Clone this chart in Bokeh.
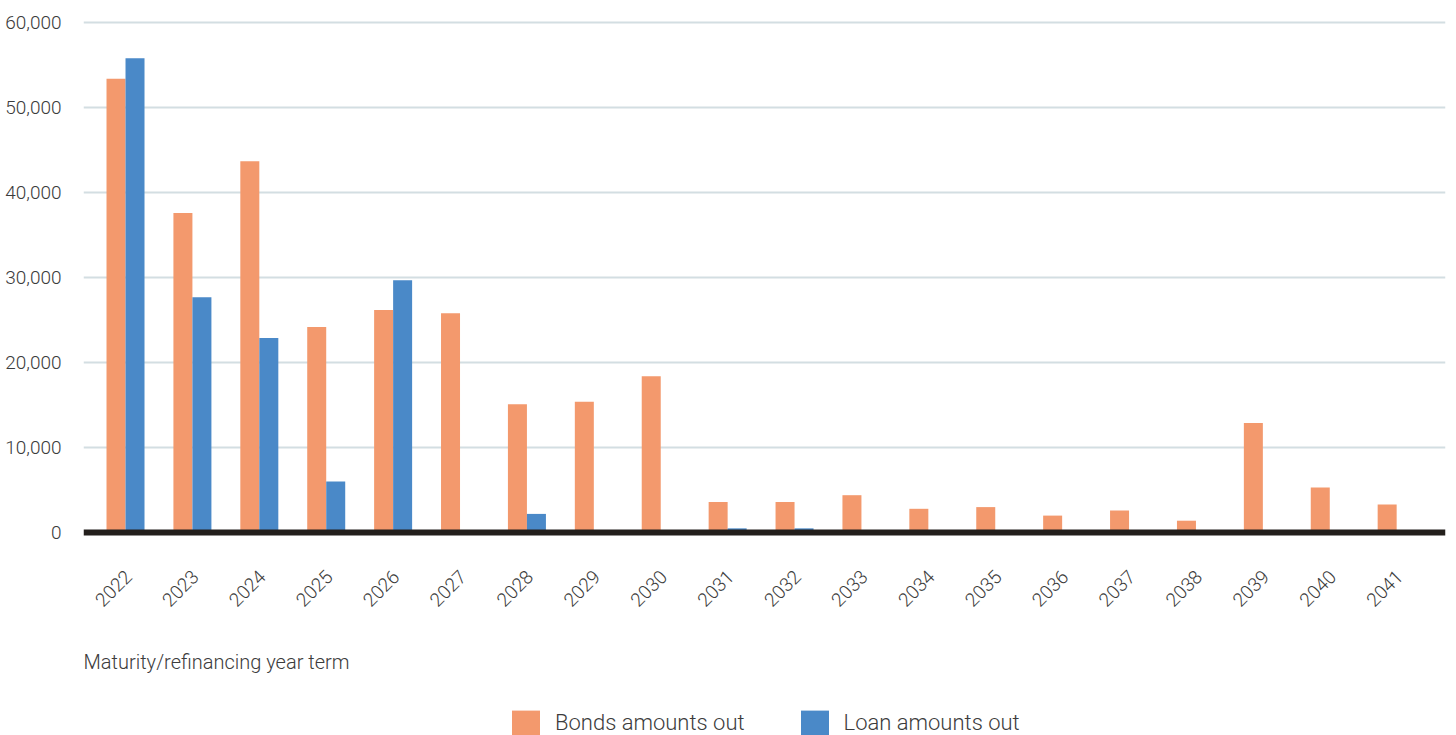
from bokeh.plotting import figure
from bokeh.models import (ColumnDataSource, Range1d, FixedTicker, NumeralTickFormatter,
                          Legend, LegendItem, Label, Span)
from bokeh.core.properties import value
from bokeh.transform import dodge
from bokeh.embed import file_html
from bokeh.resources import INLINE
import math

years = [str(y) for y in range(2022, 2042)]
bonds = [53400, 37600, 43700, 24200, 26200, 25800, 15100, 15400, 18400, 3600,
         3600, 4400, 2800, 3000, 2000, 2600, 1400, 12900, 5300, 3300]
loans = [55800, 27700, 22900, 6000, 29700, 0, 2200, 0, 0, 500,
         500, 0, 0, 0, 0, 0, 0, 0, 0, 0]

BOND_COLOR = "#F3996D"
LOAN_COLOR = "#4A89C8"
FONT = "'Roboto Light', Roboto"
TXT = "#3C3C3C"

idx = list(range(len(years)))
src = ColumnDataSource(dict(x=idx, bonds=bonds, loans=loans, year=years,
                            base=[0] * len(years)))

# frame covers plot + area below it (labels, caption, legend); same 85 px per 10,000
p = figure(frame_width=1362, frame_height=718, output_backend="svg", toolbar_location=None,
           x_range=Range1d(-0.628, 19.73), y_range=Range1d(-23870, 60600),
           x_axis_location=None,
           min_border_left=83, min_border_right=3, min_border_top=17,
           min_border_bottom=0)
p.outline_line_color = None
p.background_fill_color = "white"
p.border_fill_color = "white"

w = 0.284
rb = p.vbar(x=dodge("x", -w / 2), top="bonds", width=w, source=src,
            fill_color=BOND_COLOR, line_color=None)
rl = p.vbar(x=dodge("x", w / 2), top="loans", width=w, source=src,
            fill_color=LOAN_COLOR, line_color=None)

# baseline (x axis line)
p.add_layout(Span(location=0, dimension="width", line_color="#231F1C", line_width=6))

# category labels, rotated 45 degrees under each group
p.text(x="x", y="base", text="year", source=src, angle=math.pi / 4,
       text_align="right", text_baseline="middle", x_offset=3, y_offset=41,
       text_font=value(FONT), text_font_size="19px", text_color=TXT)

# y axis
p.yaxis.ticker = FixedTicker(ticks=[0, 10000, 20000, 30000, 40000, 50000, 60000])
p.yaxis.formatter = NumeralTickFormatter(format="0,0")
p.yaxis.axis_line_color = None
p.yaxis.major_tick_line_color = None
p.yaxis.minor_tick_line_color = None
p.yaxis.major_label_text_font = FONT
p.yaxis.major_label_text_font_size = "19px"
p.yaxis.major_label_text_color = TXT
p.yaxis.major_label_standoff = 16

p.ygrid.ticker = FixedTicker(ticks=[10000, 20000, 30000, 40000, 50000, 60000])
p.ygrid.grid_line_color = "#D3DEE2"
p.ygrid.grid_line_width = 2
p.xgrid.grid_line_color = None

title = Label(x=0, y=74, x_units="screen", y_units="screen",
              text="Maturity/refinancing year term", text_font=FONT,
              text_font_size="20px", text_color=TXT, text_baseline="alphabetic",
              text_align="left")
p.add_layout(title)

legend = Legend(items=[LegendItem(label="Bonds amounts out", renderers=[rb]),
                       LegendItem(label="Loan amounts out", renderers=[rl])],
                orientation="horizontal", location=(425, -3),
                label_text_font=FONT, label_text_font_size="22px",
                label_text_color=TXT, glyph_width=35, glyph_height=31,
                label_height=31, spacing=52, label_standoff=12,
                border_line_color=None, background_fill_alpha=0,
                margin=0, padding=0)
p.add_layout(legend, "center")

open("out.html", "w").write(file_html(p, INLINE))
